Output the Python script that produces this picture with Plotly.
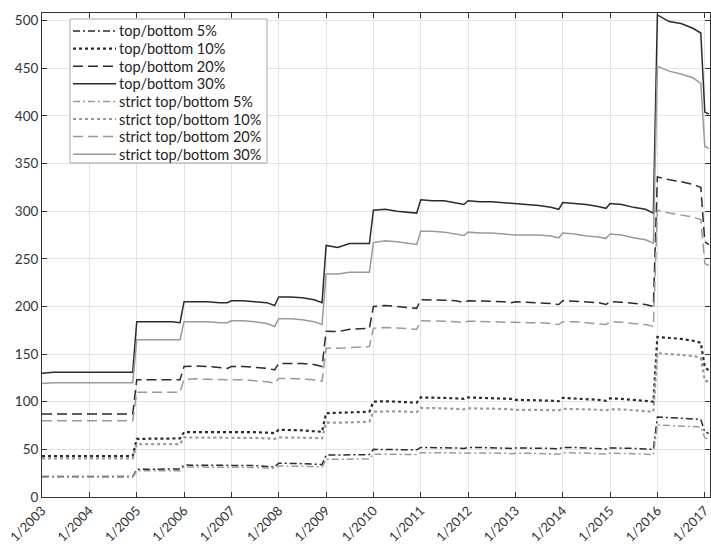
import plotly.graph_objects as go

# Sample dates: Jan, Apr, Jul, Oct, Dec of each year, then Jan/Feb 2017
YEARS = list(range(2003, 2017))
MONTHS = ["01", "04", "07", "10", "12"]
DATES = [f"{y}-{m}-01" for y in YEARS for m in MONTHS] + ["2017-01-01", "2017-02-01"]

# Values per year (Jan, Apr, Jul, Oct, Dec); last row is Jan/Feb 2017
top5 = [
    21.5, 21.5, 21.5, 21.5, 21.5,
    21.5, 21.5, 21.5, 21.5, 21.5,
    29, 29, 29.5, 29.5, 29.5,
    33.5, 33.5, 33.5, 33.5, 33.5,
    33.5, 33.5, 33, 32, 31.5,
    35.5, 35.5, 35, 34.5, 34,
    44, 44, 44, 44.5, 44.5,
    50, 50, 50, 49.5, 49.5,
    52, 52, 52, 51.5, 51,
    52, 52, 51.5, 51.5, 51,
    51.5, 51.5, 51, 51, 50.5,
    52, 52, 51.5, 51, 50.5,
    51.5, 51.5, 51, 50.5, 50,
    84, 83.5, 83, 82.5, 81.5,
    68, 67,
]
top10 = [
    43, 43, 43, 43, 43,
    43, 43, 43, 43, 43,
    61, 61, 61, 61.5, 61.5,
    68, 68, 68, 68, 68,
    68.5, 68.5, 68, 67.5, 67,
    70.5, 70.5, 70, 69, 68.5,
    88, 88.5, 89, 89.5, 89.5,
    100, 100.5, 100, 99.5, 99,
    104.5, 104.5, 104, 103.5, 103,
    104.5, 104, 104, 103.5, 103,
    102, 102, 101.5, 101, 100.5,
    104, 103.5, 103, 102, 101,
    103.5, 103, 102, 101, 100,
    168, 167, 166, 164, 162,
    136, 133,
]
top20 = [
    87, 87, 87, 87, 87,
    87, 87, 87, 87, 87,
    123, 123, 123, 123, 123,
    137, 137.5, 137, 136, 135,
    137, 137, 136, 135, 133.5,
    140, 140, 140, 139, 137,
    174, 173.5, 176, 177, 177,
    200, 201, 200, 199, 198,
    207, 207, 206.5, 206, 204,
    206, 206, 205.5, 205, 204,
    205, 204.5, 204, 203, 202,
    206, 205.5, 205, 204, 202,
    205, 204.5, 203, 202, 200,
    336, 333, 331, 328, 325,
    268, 265,
]
top30 = [
    130, 131, 131, 131, 131,
    131, 131, 131, 131, 131,
    184, 184, 184, 184, 183,
    205, 205, 205, 204, 204,
    206, 206, 205, 204, 201,
    210, 210, 209, 207, 204,
    264, 262, 266, 266, 266,
    301, 302, 300, 299, 298,
    312, 311, 311, 309, 307,
    311, 310, 310, 309, 308,
    308, 307, 306, 304, 302,
    309, 308, 307, 305, 303,
    308, 307, 304, 302, 298,
    506, 499, 497, 492, 487,
    404, 402,
]
strict5 = [
    21, 21, 21, 21, 21,
    21, 21, 21, 21, 21,
    27.5, 27.5, 27.5, 27.5, 27.5,
    31.5, 31.5, 31.5, 31.5, 31.5,
    31.5, 31.5, 31, 30.5, 30,
    32.5, 32.5, 32.5, 32, 31.5,
    39.5, 39.5, 40, 40, 40,
    45, 45, 45, 44.5, 44.5,
    46.5, 46.5, 46.5, 46, 46,
    46.5, 46.5, 46, 46, 45.5,
    46, 46, 45.5, 45.5, 45,
    46.5, 46.5, 46, 45.5, 45,
    46, 46, 45.5, 45, 44.5,
    75.5, 75, 74.5, 74, 73.5,
    62, 61,
]
strict10 = [
    40.5, 40.5, 40.5, 40.5, 40.5,
    40.5, 40.5, 40.5, 40.5, 40.5,
    55.5, 55.5, 55.5, 55.5, 55.5,
    62.5, 62.5, 62.5, 62.5, 62.5,
    62.5, 62.5, 62, 61.5, 61,
    62.5, 62.5, 62.5, 62, 61.5,
    78, 78, 78.5, 79, 79,
    89.5, 90, 90, 89.5, 89,
    93.5, 93.5, 93, 92.5, 92,
    93, 93, 92.5, 92.5, 92,
    91.5, 91.5, 91.5, 91, 91,
    92.5, 92.5, 92, 91.5, 91,
    92, 92, 91, 90.5, 89.5,
    151, 150, 149.5, 148, 146,
    122, 121,
]
strict20 = [
    80, 80, 80, 80, 80,
    80, 80, 80, 80, 80,
    110, 110, 110, 110, 110,
    123.5, 124, 123.5, 123, 122.5,
    123, 123, 122, 121, 119.5,
    124.5, 124.5, 124, 123, 121.5,
    156, 156, 157, 158, 158,
    177, 178, 177.5, 177, 176,
    185, 185, 184.5, 184, 183,
    184.5, 184.5, 184, 183.5, 183,
    183.5, 183, 183, 182, 181,
    184, 184, 183, 182, 181,
    184, 183.5, 182, 181, 179,
    301, 298, 296, 294, 291,
    245, 243,
]
strict30 = [
    119, 120, 120, 120, 120,
    120, 120, 120, 120, 120,
    165, 165, 165, 165, 165,
    184, 184, 184, 183, 183,
    185, 185, 184, 182, 179,
    187, 187, 186, 184, 181,
    234, 234, 236, 236, 236,
    267, 269, 268, 266, 265,
    279, 279, 278, 276, 274.5,
    278, 277, 277, 276, 276,
    275, 275, 275, 274, 272,
    277, 276, 274, 273, 271.5,
    276, 275, 272, 270, 266.5,
    452, 447, 444, 440, 434,
    368, 366,
]

TICK_YEARS = list(range(2003, 2018))
TICK_DATES = [f"{y}-01-01" for y in TICK_YEARS]
TICK_TEXT = [f"1/{y}" for y in TICK_YEARS]

DARK = "#2b2b2b"
GREY = "#9a9a9a"
DASHDOT = "7px,3px,2px,3px"
DASH = "10px,5px"

series = [
    ("top/bottom 5%", top5, DARK, DASHDOT, 1.5),
    ("top/bottom 10%", top10, DARK, "dot", 2.2),
    ("top/bottom 20%", top20, DARK, DASH, 1.5),
    ("top/bottom 30%", top30, DARK, "solid", 1.5),
    ("strict top/bottom 5%", strict5, GREY, DASHDOT, 1.5),
    ("strict top/bottom 10%", strict10, GREY, "dot", 2.2),
    ("strict top/bottom 20%", strict20, GREY, DASH, 1.5),
    ("strict top/bottom 30%", strict30, GREY, "solid", 1.5),
]

FONT = "Lato, sans-serif"

fig = go.Figure()
for name, vals, color, dash, width in series:
    fig.add_trace(go.Scatter(
        x=DATES, y=vals, mode="lines", name=name, showlegend=False,
        line=dict(color=color, dash=dash, width=width),
    ))

# Compact legend box drawn in paper coordinates (plot area 668 x 484 px)
W, H = 668.0, 484.0
def px_x(p):
    return p / W
def px_y(p):
    return 1 - p / H

shapes = [dict(type="rect", xref="paper", yref="paper",
               x0=px_x(28), x1=px_x(225), y0=px_y(150), y1=px_y(6),
               fillcolor="white", line=dict(color="#a8a8a8", width=1), layer="above")]
annotations = []
for i, (name, _, color, dash, width) in enumerate(series):
    cy = 18 + 17.6 * i
    shapes.append(dict(type="line", xref="paper", yref="paper",
                       x0=px_x(31), x1=px_x(74), y0=px_y(cy), y1=px_y(cy),
                       line=dict(color=color, dash=dash, width=width), layer="above"))
    annotations.append(dict(xref="paper", yref="paper", x=px_x(75), y=px_y(cy),
                            xanchor="left", yanchor="middle", showarrow=False,
                            text=name, font=dict(family=FONT, size=14.5, color="#222222")))

fig.update_layout(
    width=711, height=544,
    margin=dict(l=42, r=1, t=13, b=47, autoexpand=False),
    paper_bgcolor="white", plot_bgcolor="white",
    showlegend=False,
    shapes=shapes, annotations=annotations,
    xaxis=dict(
        type="date", range=["2003-01-01", "2017-02-10"], automargin=False,
        tickvals=TICK_DATES, ticktext=TICK_TEXT, tickangle=-45,
        ticklabeloverflow="allow",
        showgrid=True, gridcolor="#e3e3e3", gridwidth=1,
        showline=True, linecolor="#333333", linewidth=1, mirror="ticks",
        ticks="inside", ticklen=5, tickcolor="#333333",
        tickfont=dict(family=FONT, size=13, color="#333333"), zeroline=False,
    ),
    yaxis=dict(
        range=[0, 508], tickvals=list(range(0, 501, 50)), automargin=False,
        showgrid=True, gridcolor="#e3e3e3", gridwidth=1,
        showline=True, linecolor="#333333", linewidth=1, mirror="ticks",
        ticks="inside", ticklen=5, tickcolor="#333333",
        tickfont=dict(family=FONT, size=13.5, color="#333333"), zeroline=False,
    ),
)

fig.write_html("out.html")
